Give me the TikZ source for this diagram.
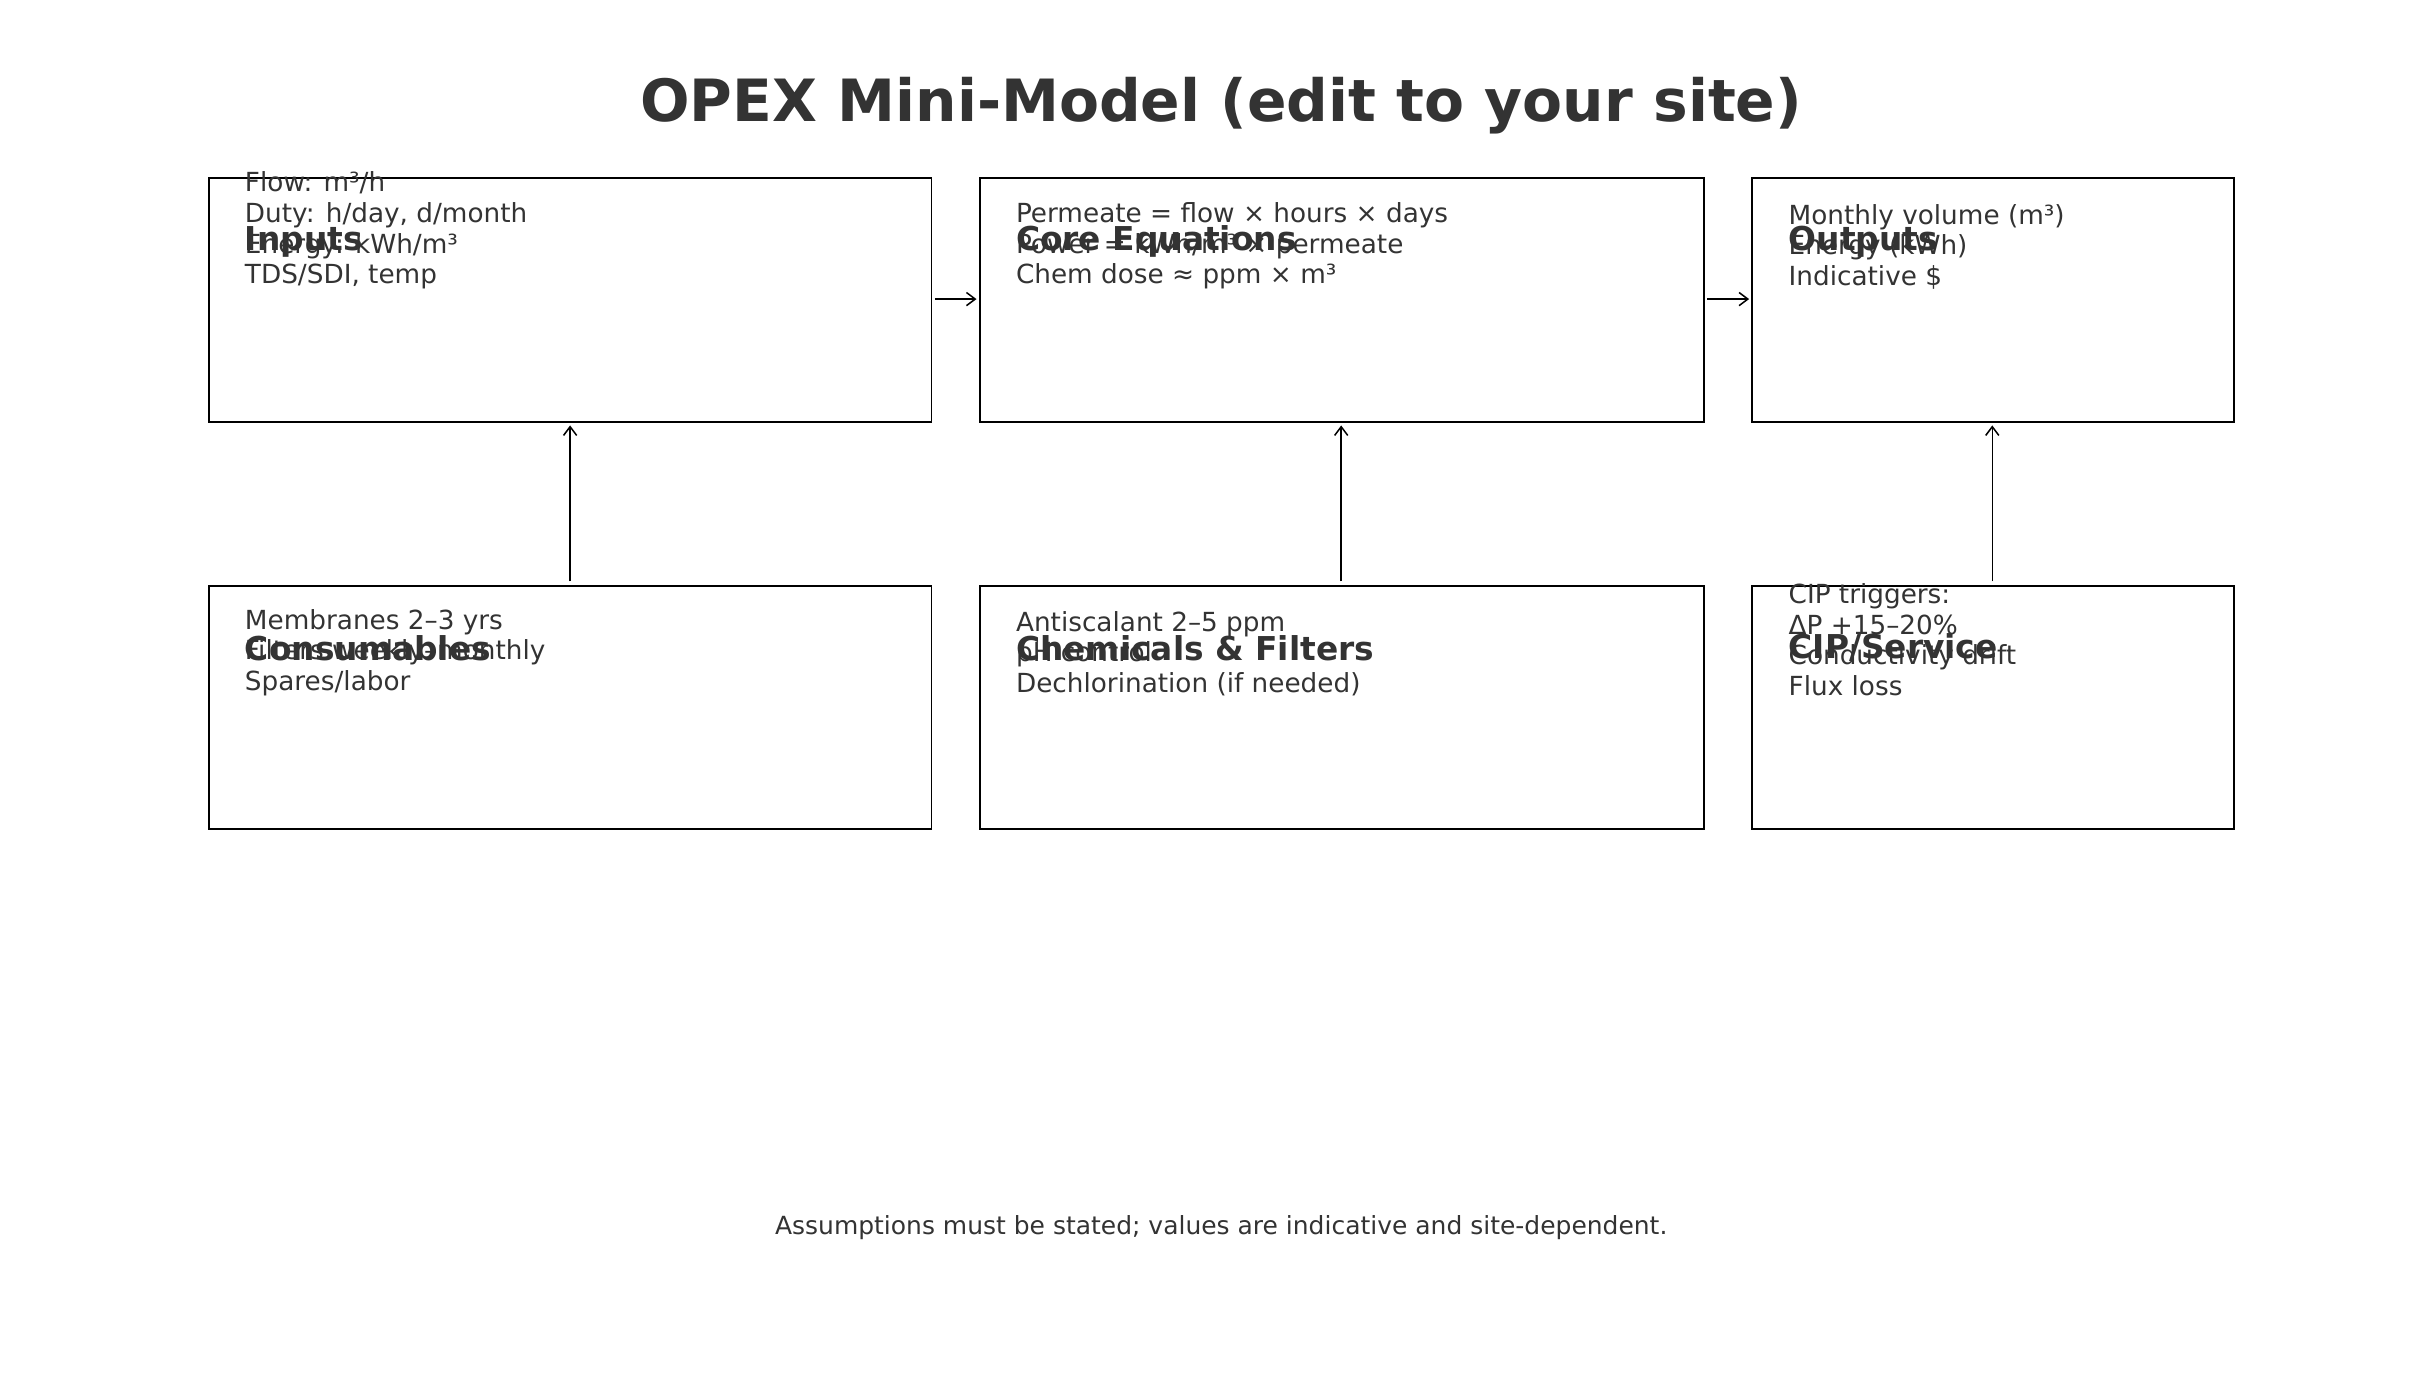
\documentclass[tikz,border=0pt]{standalone}
\usepackage{fontspec}
\setmainfont{DejaVu Sans}
\usetikzlibrary{positioning, arrows.meta}
\definecolor{ink}{HTML}{333333}

\begin{document}
\begin{tikzpicture}[x=0.025cm, y=-0.025cm,
    panel/.style={draw=black, line width=0.9pt},
    head/.style={anchor=west, text=ink, font=\fontsize{15}{18}\selectfont\bfseries, inner sep=0pt},
    body/.style={anchor=south west, align=left, text=ink, font=\fontsize{12}{14}\selectfont, inner sep=0pt},
    link/.style={-{Straight Barb[length=4pt, width=6pt]}, line width=0.7pt}]
    \useasboundingbox (0,0) rectangle (1560,886);

    \node[text=ink, font=\fontsize{26.6}{32}\selectfont\bfseries] (title) at (784,68) {OPEX Mini-Model (edit to your site)};

    % top row
    \draw[panel] (134,114) rectangle (598,271);
    \coordinate (inR) at (598,192);
    \coordinate (inB) at (366,271);
    \draw[panel] (629,114) rectangle (1094,271);
    \coordinate (coL) at (629,192); \coordinate (coR) at (1094,192);
    \coordinate (coB) at (861,271);
    \draw[panel] (1125,114) rectangle (1434,271);
    \coordinate (ouL) at (1125,192);
    \coordinate (ouB) at (1279,271);

    % bottom row
    \draw[panel] (134,376) rectangle (598,532);
    \coordinate (cnT) at (366,376);
    \draw[panel] (629,376) rectangle (1094,532);
    \coordinate (chT) at (861,376);
    \draw[panel] (1125,376) rectangle (1434,532);
    \coordinate (cpT) at (1279,376);

    \node[head] (hIn) at (157,155) {Inputs};
    \node[body] (bIn) at (157,186) {Flow: m³/h\\Duty: h/day, d/month\\Energy: kWh/m³\\TDS/SDI, temp};
    \node[head] (hCo) at (652,155) {Core Equations};
    \node[body] (bCo) at (652,186) {Permeate = flow × hours × days\\Power = kWh/m³ × permeate\\Chem dose ≈ ppm × m³};
    \node[head] (hOu) at (1148,155) {Outputs};
    \node[body] (bOu) at (1148,186) {Monthly volume (m³)\\Energy (kWh)\\Indicative \$};

    \node[head] (hCn) at (157,416) {Consumables};
    \node[body] (bCn) at (157,447) {Membranes 2–3 yrs\\Filters weekly–monthly\\Spares/labor};
    \node[head] (hCh) at (652,416) {Chemicals \& Filters};
    \node[body] (bCh) at (652,447) {Antiscalant 2–5 ppm\\pH control\\Dechlorination (if needed)};
    \node[head] (hCp) at (1148,416) {CIP/Service};
    \node[body] (bCp) at (1148,447) {CIP triggers:\\ΔP +15–20\%\\Conductivity drift\\Flux loss};

    \draw[link] ([xshift=1.5pt]inR) -- ([xshift=-1.5pt]coL);
    \draw[link] ([xshift=1.5pt]coR) -- ([xshift=-1.5pt]ouL);
    \draw[link] ([yshift=2pt]cnT) -- ([yshift=-1.5pt]inB);
    \draw[link] ([yshift=2pt]chT) -- ([yshift=-1.5pt]coB);
    \draw[link] ([yshift=2pt]cpT) -- ([yshift=-1.5pt]ouB);

    \node[text=ink, font=\fontsize{11.4}{13}\selectfont] (note) at (784,788) {Assumptions must be stated; values are indicative and site-dependent.};
\end{tikzpicture}
\end{document}
